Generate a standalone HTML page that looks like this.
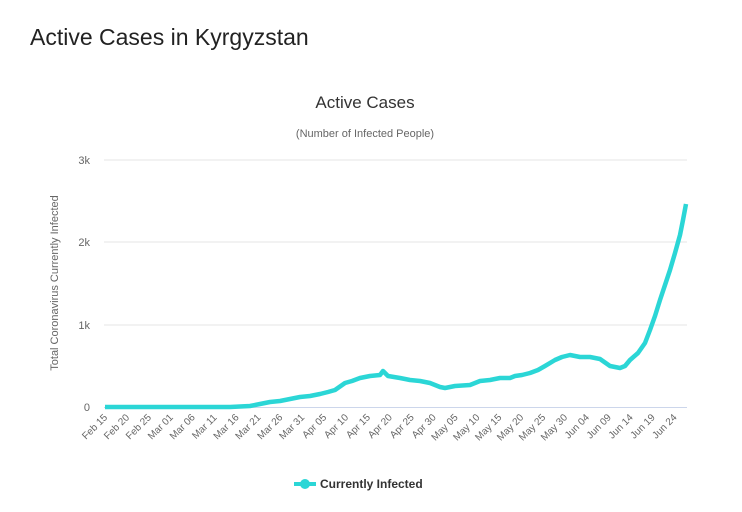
<!DOCTYPE html><html><head><style>body{margin:0;background:#fff;width:742px;height:507px;overflow:hidden;font-family:"Liberation Sans",sans-serif}</style></head><body>
<svg width="742" height="507" xmlns="http://www.w3.org/2000/svg" font-family="Liberation Sans, sans-serif">
<text x="30" y="45" font-size="23" fill="#222">Active Cases in Kyrgyzstan</text>
<text x="365" y="108" font-size="17" fill="#333" text-anchor="middle">Active Cases</text>
<text x="365" y="137" font-size="11" fill="#666" text-anchor="middle">(Number of Infected People)</text>
<g stroke="#e6e6e6" stroke-width="1"><line x1="104" y1="160" x2="687" y2="160"/><line x1="104" y1="242" x2="687" y2="242"/><line x1="104" y1="325" x2="687" y2="325"/></g>
<line x1="104" y1="407.5" x2="687" y2="407.5" stroke="#ccd6eb"/>
<g font-size="11" fill="#666" text-anchor="end"><text x="90" y="164">3k</text><text x="90" y="246">2k</text><text x="90" y="329">1k</text><text x="90" y="411">0</text></g>
<text transform="translate(58,283) rotate(-90)" font-size="11" fill="#666" text-anchor="middle">Total Coronavirus Currently Infected</text>
<g font-size="10" fill="#666" text-anchor="end">
<text transform="translate(108,418) rotate(-45)">Feb 15</text>
<text transform="translate(129.9,418) rotate(-45)">Feb 20</text>
<text transform="translate(151.8,418) rotate(-45)">Feb 25</text>
<text transform="translate(173.7,418) rotate(-45)">Mar 01</text>
<text transform="translate(195.6,418) rotate(-45)">Mar 06</text>
<text transform="translate(217.5,418) rotate(-45)">Mar 11</text>
<text transform="translate(239.4,418) rotate(-45)">Mar 16</text>
<text transform="translate(261.3,418) rotate(-45)">Mar 21</text>
<text transform="translate(283.2,418) rotate(-45)">Mar 26</text>
<text transform="translate(305.1,418) rotate(-45)">Mar 31</text>
<text transform="translate(327,418) rotate(-45)">Apr 05</text>
<text transform="translate(348.9,418) rotate(-45)">Apr 10</text>
<text transform="translate(370.8,418) rotate(-45)">Apr 15</text>
<text transform="translate(392.7,418) rotate(-45)">Apr 20</text>
<text transform="translate(414.6,418) rotate(-45)">Apr 25</text>
<text transform="translate(436.5,418) rotate(-45)">Apr 30</text>
<text transform="translate(458.4,418) rotate(-45)">May 05</text>
<text transform="translate(480.3,418) rotate(-45)">May 10</text>
<text transform="translate(502.2,418) rotate(-45)">May 15</text>
<text transform="translate(524.1,418) rotate(-45)">May 20</text>
<text transform="translate(546,418) rotate(-45)">May 25</text>
<text transform="translate(567.9,418) rotate(-45)">May 30</text>
<text transform="translate(589.8,418) rotate(-45)">Jun 04</text>
<text transform="translate(611.7,418) rotate(-45)">Jun 09</text>
<text transform="translate(633.6,418) rotate(-45)">Jun 14</text>
<text transform="translate(655.5,418) rotate(-45)">Jun 19</text>
<text transform="translate(677.4,418) rotate(-45)">Jun 24</text>
</g>
<polyline fill="none" stroke="#2bd6d6" stroke-width="4.5" stroke-linejoin="round" points="105,407 230,407 250,406 260,404 270,402 280,401 290,399 300,397 310,396 320,394 328,392 335,390 345,383 352,381 360,378 370,376 380,375 383,371 388,376 400,378 410,380 420,381 430,383 440,387 445,388 455,386 470,385 480,381 490,380 500,378 510,378 515,376 522,375 530,373 538,370 545,366 555,360 562,357 570,355 580,357 590,357 600,359 610,366 620,368 625,366 630,360 638,353 645,343 650,330 655,316 660,300 665,285 670,270 675,253 680,235 683,220 686,204"/>
<line x1="294" y1="484" x2="316" y2="484" stroke="#2bd6d6" stroke-width="4"/><circle cx="305" cy="484" r="5" fill="#2bd6d6"/>
<text x="320" y="488" font-size="12" font-weight="bold" fill="#333">Currently Infected</text>
</svg></body></html>
